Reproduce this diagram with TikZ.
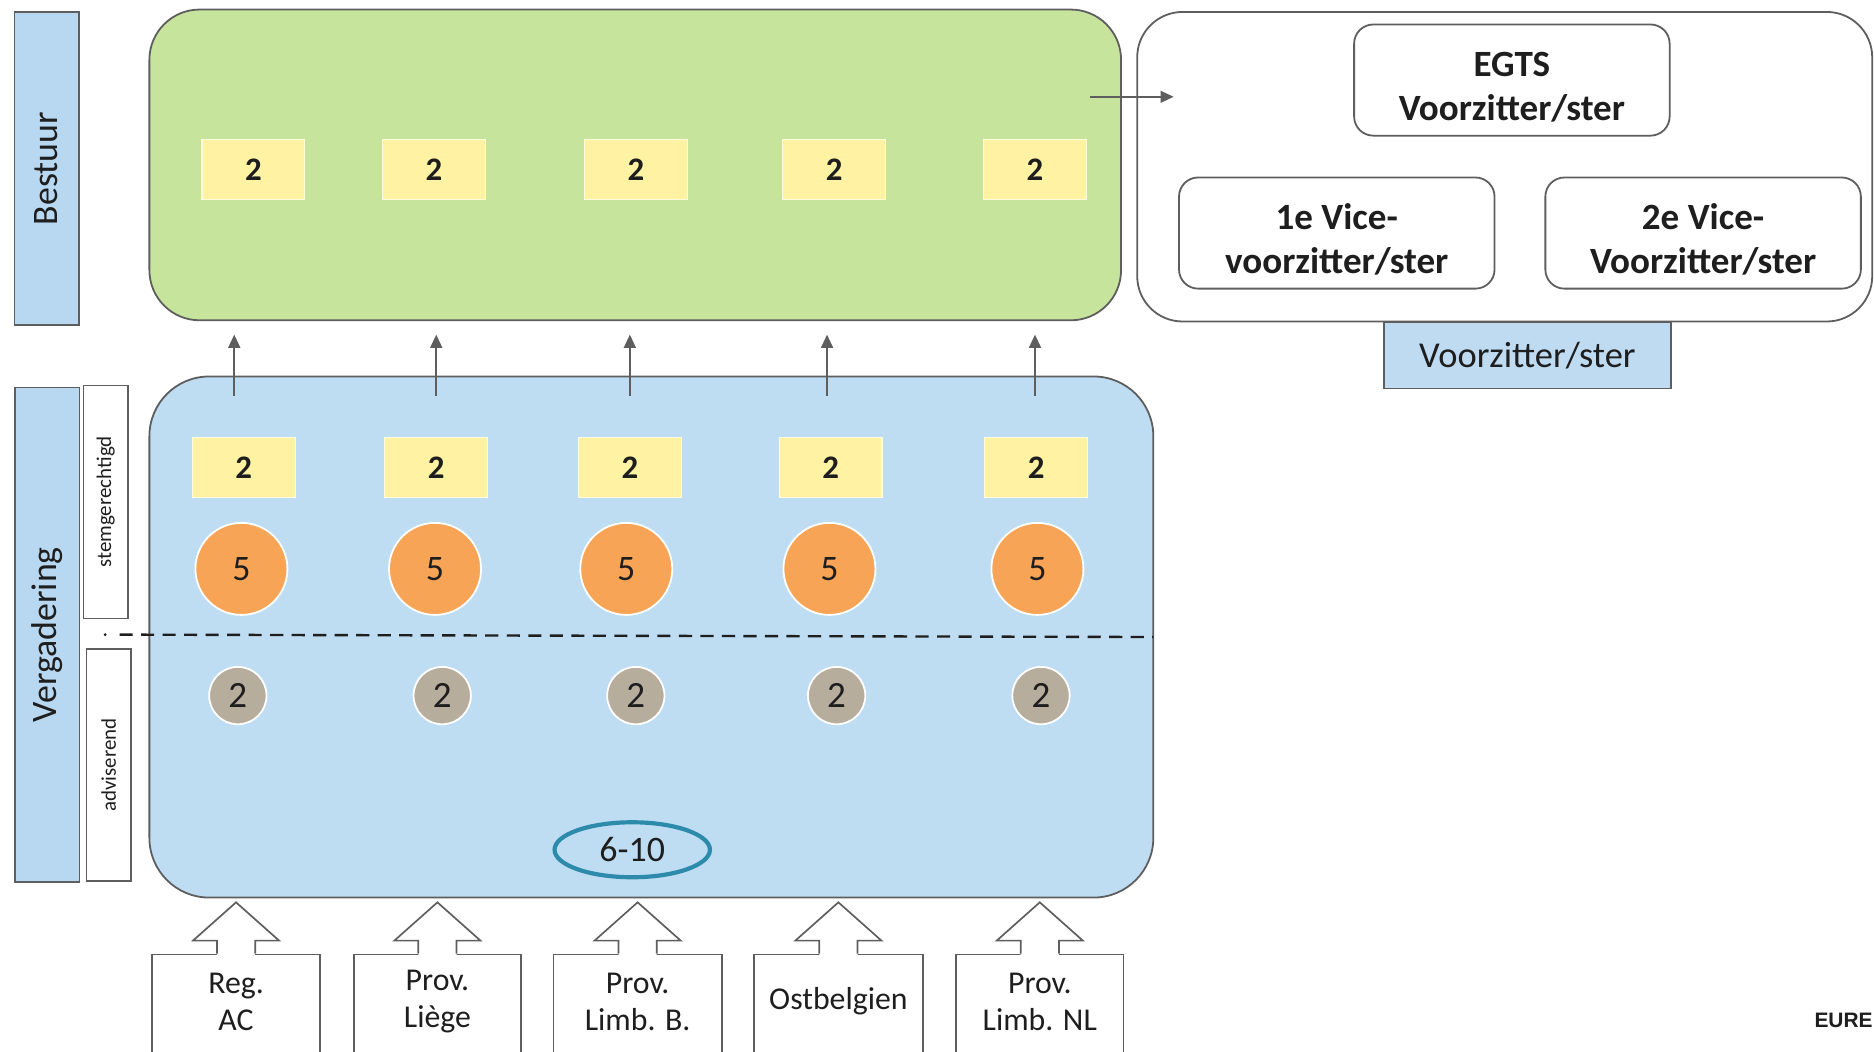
\documentclass[tikz,border=0pt]{standalone}
\usepackage{fontspec}
\setmainfont{Carlito}
\newfontfamily\eurefont{Liberation Sans}
\usetikzlibrary{arrows.meta,shapes.geometric}
\definecolor{greenfill}{HTML}{C6E49B}
\definecolor{bluefill}{HTML}{BEDCF2}
\definecolor{barblue}{HTML}{B8D7F0}
\definecolor{yel}{HTML}{FFF3A3}
\definecolor{orng}{HTML}{F8A457}
\definecolor{taupe}{HTML}{B7AD9D}
\definecolor{tealring}{HTML}{2C8AAB}
\definecolor{edge}{HTML}{5E5E5E}
\definecolor{ink}{HTML}{1E1E1E}
\begin{document}
\begin{tikzpicture}[x=1pt,y=-1pt,
  bar/.style={draw=edge, fill=barblue, line width=1.2pt, inner sep=0pt, rotate=90,
    text=ink, font=\fontsize{30}{36}\selectfont},
  tag/.style={draw=edge, fill=white, line width=1.2pt, inner sep=0pt, rotate=90,
    text=ink, font=\fontsize{17.5}{21}\selectfont},
  bigbox/.style={draw=edge, line width=1.5pt, rounded corners=42pt, inner sep=0pt},
  ybox/.style={fill=yel, draw=yel!35!white, line width=1pt, minimum width=86pt,
    minimum height=50pt, inner sep=0pt, text=ink, font=\fontsize{27.5}{32}\selectfont\bfseries},
  ocirc/.style={circle, fill=orng, draw=white, line width=1.5pt, minimum size=77pt,
    inner sep=0pt, text=ink, font=\fontsize{30}{36}\selectfont},
  gcirc/.style={circle, fill=taupe, draw=white, line width=1.5pt, minimum size=48pt,
    inner sep=0pt, text=ink, font=\fontsize{31}{36}\selectfont},
  role/.style={draw=edge, line width=1.5pt, rounded corners=16pt, fill=white,
    inner sep=0pt, minimum width=264pt, minimum height=93pt},
  roletext/.style={align=center, inner sep=0pt, text=ink, font=\fontsize{31}{36.5}\selectfont\bfseries},
  srcbox/.style={draw=edge, fill=white, line width=1.4pt, minimum height=86pt, inner sep=0pt},
  srctext/.style={align=center, text=ink, font=\fontsize{26.6}{31}\selectfont},
  thinarrow/.style={-{Triangle[length=11pt,width=10pt]}, draw=edge, line width=1.3pt},
  hollow/.style={draw=edge, line width=1.4pt, line join=miter}
]
\clip (0,0) rectangle (1568,880);
\fill[white] (0,0) rectangle (1568,880);

% side bars
\node[bar, minimum width=262pt, minimum height=54pt] (bestuur) at (39,141) {Bestuur};
\node[bar, minimum width=414pt, minimum height=54pt] (verg) at (39.5,531) {Vergadering};
\node[tag, minimum width=195pt, minimum height=37pt] (stem) at (88.5,420) {stemgerechtigd};
\node[tag, minimum width=194pt, minimum height=37pt] (advis) at (91,640) {adviserend};

% green box (Bestuur)
\node[bigbox, fill=greenfill, minimum width=813pt, minimum height=260pt] (green) at (531.5,138) {};
\foreach \i/\x in {1/212,2/363,3/532,4/698,5/866}
  \node[ybox] (gy\i) at (\x,142) {2};

% blue box (Vergadering)
\node[bigbox, fill=bluefill, rounded corners=50pt, minimum width=840pt, minimum height=436pt] (blue) at (545,533) {};
\foreach \i/\x in {1/204,2/365,3/527,4/695,5/867}
  \node[ybox] (by\i) at (\x,391) {2};
\foreach \i/\x in {1/202,2/364,3/524,4/694,5/868}
  \node[ocirc] (oc\i) at (\x,476) {5};
\foreach \i/\x in {1/199,2/370,3/532,4/700,5/871}
  \node[gcirc] (gc\i) at (\x,582) {2};
\node[ellipse, draw=tealring, line width=3.5pt, minimum width=130pt, minimum height=46pt,
  inner sep=0pt, text=ink, font=\fontsize{30}{36}\selectfont] (range) at (529,711) {6-10};

% dashed separator
\coordinate (dl) at (100,531);
\coordinate (dr) at (965,533);
\fill[ink] (88,531) circle (1.3pt);
\draw[ink, line width=2pt, dash pattern=on 11pt off 7pt] (dl) -- (dr);

% arrows from Vergadering to Bestuur
\foreach \i/\x in {1/196,2/365,3/527,4/692,5/866}{
  \coordinate (ua\i) at (\x,331);
  \coordinate (ut\i) at (\x,280);
  \draw[thinarrow] (ua\i) -- (ut\i);
}

% right panel
\node[bigbox, fill=white, rounded corners=38pt, minimum width=615pt, minimum height=259pt] (panel) at (1259,139.5) {};
\coordinate (ga) at (912,81);
\coordinate (pa) at (982,81);
\draw[thinarrow] (ga) -- (pa);
\node[role] (egts) at (1265,67) {};
\node[roletext] (egtst) at (1265,73) {EGTS\\Voorzitter/ster};
\node[role] (vice1) at (1118.5,195) {};
\node[roletext] (vice1t) at (1118.5,200) {1e Vice-\\voorzitter/ster};
\node[role] (vice2) at (1425,195) {};
\node[roletext] (vice2t) at (1425,200) {2e Vice-\\Voorzitter/ster};
\node[draw=edge, fill=barblue!90!white, line width=1.2pt, minimum width=240pt, minimum height=55pt,
  inner sep=0pt, text=ink, font=\fontsize{30.5}{36}\selectfont] (chair) at (1278,297.5) {Voorzitter/ster};

% sources with hollow arrows
\foreach \i/\x/\w/\txt in {1/197.5/141/{Reg.\\AC},2/366/140/{Prov.\\Liège},3/533.5/141/{Prov.\\Limb. B.},4/701.5/141/{Ostbelgien},5/870/140/{Prov.\\Limb. NL}}{
  \node[srcbox, minimum width=\w pt, anchor=north] (b\i) at (\x,798) {};
  \node[srctext] (t\i) at (\x,838) {\txt};
  \fill[white] ([xshift=-16pt,yshift=-1.5pt]b\i.north) -- ++(0,-12.5) -- ++(-20,0) -- ++(36,-32)
    -- ++(36,32) -- ++(-20,0) -- ++(0,12.5) -- cycle;
  \draw[hollow] ([xshift=-16pt]b\i.north) -- ++(0,-11) -- ++(-20,0) -- ++(36,-32)
    -- ++(36,32) -- ++(-20,0) -- ++(0,11);
}

% clipped logo text
\node[anchor=base west, inner sep=0pt, text=ink, font=\eurefont\bfseries\fontsize{17.5}{21}\selectfont] (eure) at (1518,860) {EURE};
\end{tikzpicture}
\end{document}
